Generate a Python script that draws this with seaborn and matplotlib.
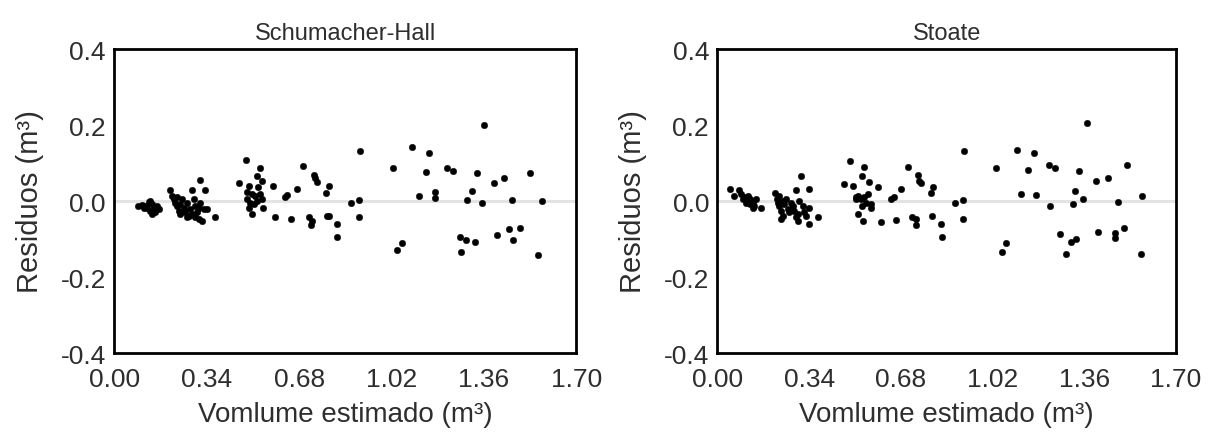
import matplotlib
matplotlib.use("Agg")
import matplotlib.pyplot as plt
import seaborn as sns
import pandas as pd

# ---- Data ----
sh_volume = [
    0.089, 0.102, 0.114, 0.126, 0.132, 0.139, 0.145, 0.132, 0.151, 0.163, 0.120, 0.108, 0.139, 0.157,
    0.204, 0.212, 0.218, 0.224, 0.231, 0.237, 0.243, 0.249, 0.255, 0.261, 0.267, 0.273, 0.280, 0.286,
    0.292, 0.298, 0.304, 0.310, 0.316, 0.323, 0.329, 0.335, 0.341, 0.372, 0.231, 0.243, 0.267, 0.286,
    0.298, 0.316, 0.310,
    0.485, 0.536, 0.525, 0.542, 0.457, 0.583, 0.496, 0.527, 0.489, 0.506, 0.518, 0.535, 0.542, 0.489,
    0.500, 0.524, 0.548, 0.514, 0.496, 0.506, 0.592,
    0.629, 0.635, 0.650, 0.672, 0.693, 0.733, 0.740, 0.746, 0.715, 0.727, 0.724,
    0.780, 0.791, 0.783, 0.791, 0.819, 0.819, 0.872, 0.901, 0.903, 0.901,
    1.025, 1.040, 1.058, 1.095, 1.120, 1.148, 1.158, 1.181, 1.181, 1.224, 1.245,
    1.271, 1.275, 1.295, 1.298, 1.316, 1.326, 1.334, 1.353, 1.359, 1.396, 1.408,
    1.432, 1.451, 1.463, 1.466, 1.491, 1.528, 1.559, 1.574,
]
sh_residuo = [
    -0.012, -0.011, -0.014, -0.003, 0.001, -0.008, -0.017, -0.025, -0.030, -0.021, -0.017, -0.017, -0.034, -0.012,
    0.030, 0.014, 0.005, -0.004, -0.012, -0.025, -0.008, 0.005, -0.017, -0.030, -0.004, -0.039, -0.021, 0.030,
    0.005, -0.012, -0.030, -0.047, 0.056, -0.052, -0.021, 0.030, -0.021, -0.041, 0.010, -0.034, -0.043, -0.034,
    -0.043, -0.004, -0.017,
    0.108, 0.087, 0.065, 0.052, 0.047, 0.039, 0.039, 0.036, 0.023, 0.018, 0.014, 0.018, 0.005, 0.005,
    -0.004, 0.001, -0.017, -0.008, -0.019, -0.034, -0.043,
    0.010, 0.016, -0.046, 0.033, 0.093, 0.068, 0.060, 0.049, -0.043, -0.052, -0.063,
    0.021, 0.039, -0.039, -0.039, -0.061, -0.094, -0.005, 0.003, 0.132, -0.043,
    0.086, -0.129, -0.111, 0.143, 0.012, 0.077, 0.127, 0.025, 0.009, 0.086, 0.080,
    -0.094, -0.135, -0.103, 0.002, 0.027, -0.109, 0.074, -0.006, 0.201, 0.047, -0.089,
    0.061, -0.074, 0.004, -0.102, -0.070, 0.074, -0.142, -0.001,
]

st_volume = [
    0.048, 0.063, 0.079, 0.088, 0.100, 0.112, 0.119, 0.125, 0.131, 0.137, 0.106, 0.094, 0.131, 0.143, 0.162, 0.119,
    0.215, 0.220, 0.223, 0.230, 0.236, 0.242, 0.248, 0.254, 0.260, 0.267, 0.273, 0.279, 0.285, 0.291, 0.298,
    0.304, 0.310, 0.316, 0.322, 0.328, 0.338, 0.341, 0.291, 0.341, 0.374, 0.230, 0.242, 0.298, 0.236,
    0.468, 0.491, 0.504, 0.542, 0.535, 0.563, 0.596, 0.514, 0.523, 0.532, 0.544, 0.557, 0.551, 0.536,
    0.569, 0.569, 0.523, 0.541, 0.606, 0.514,
    0.643, 0.656, 0.662, 0.681, 0.705, 0.723, 0.736, 0.738, 0.742, 0.748, 0.754,
    0.791, 0.800, 0.797, 0.830, 0.831, 0.880, 0.912, 0.915, 0.912,
    1.032, 1.054, 1.069, 1.110, 1.125, 1.153, 1.173, 1.183, 1.230, 1.251, 1.233,
    1.270, 1.293, 1.310, 1.328, 1.317, 1.327, 1.341, 1.354, 1.369, 1.405, 1.411,
    1.449, 1.473, 1.473, 1.484, 1.506, 1.520, 1.572, 1.574,
]
st_residuo = [
    0.032, 0.014, 0.030, 0.018, 0.010, 0.012, 0.005, 0.001, -0.004, -0.012, -0.004, 0.005, -0.017, 0.005, -0.017, -0.008,
    0.021, 0.005, -0.004, -0.012, -0.025, -0.039, -0.008, 0.005, -0.021, -0.030, -0.004, -0.012, -0.025, -0.043, -0.052,
    0.001, 0.065, -0.012, -0.030, -0.039, 0.032, -0.017, 0.030, -0.061, -0.041, 0.014, 0.001, -0.034, -0.047,
    0.045, 0.106, 0.039, 0.089, 0.067, 0.051, 0.038, 0.010, 0.014, 0.005, 0.010, 0.018, -0.005, -0.012,
    -0.008, -0.017, -0.034, -0.052, -0.054, 0.005,
    0.005, 0.010, -0.050, 0.032, 0.089, -0.043, -0.047, -0.063, 0.068, 0.053, 0.047,
    0.021, 0.038, -0.040, -0.061, -0.094, -0.006, 0.002, 0.131, -0.047,
    0.086, -0.134, -0.111, 0.135, 0.018, 0.083, 0.126, 0.016, 0.094, 0.086, -0.012,
    -0.087, -0.140, -0.107, -0.100, -0.009, 0.026, 0.079, 0.005, 0.205, 0.053, -0.081,
    0.060, -0.085, -0.096, -0.003, -0.072, 0.096, -0.140, 0.013,
]

titles = ["Schumacher-Hall", "Stoate"]
x_ticks = [0.00, 0.34, 0.68, 1.02, 1.36, 1.70]
x_tick_labels = ["0.00", "0.34", "0.68", "1.02", "1.36", "1.70"]
y_ticks = [-0.4, -0.2, 0.0, 0.2, 0.4]
y_tick_labels = ["-0.4", "-0.2", "0.0", "0.2", "0.4"]
x_label = "Vomlume estimado (m³)"
y_label = "Residuos (m³)"

sns.set_theme(style="white")
plt.rcParams["font.family"] = ["Liberation Sans", "DejaVu Sans"]

fig = plt.figure(figsize=(12.16, 4.35), dpi=100)
ax1 = fig.add_axes([0.094, 0.186, 0.380, 0.699])
ax2 = fig.add_axes([0.590, 0.186, 0.377, 0.699])

datasets = [
    pd.DataFrame({"vol": sh_volume, "res": sh_residuo}),
    pd.DataFrame({"vol": st_volume, "res": st_residuo}),
]

text_color = "#2e2e2e"
for ax, df, title in zip([ax1, ax2], datasets, titles):
    ax.axhline(0, color="#e3e3e3", lw=2.2, zorder=0)
    sns.scatterplot(data=df, x="vol", y="res", ax=ax, color="black",
                    s=22, edgecolor="black", linewidth=0.3, zorder=3)
    ax.set_xlim(0, 1.70)
    ax.set_ylim(-0.4, 0.4)
    ax.set_xticks(x_ticks)
    ax.set_xticklabels(x_tick_labels)
    ax.set_yticks(y_ticks)
    ax.set_yticklabels(y_tick_labels)
    ax.tick_params(axis="x", length=0, pad=10, labelsize=19, labelcolor=text_color)
    ax.tick_params(axis="y", length=0, pad=6, labelsize=19, labelcolor=text_color)
    ax.set_xlabel(x_label, fontsize=20, color=text_color, labelpad=7)
    ax.set_ylabel(y_label, fontsize=21, color=text_color, labelpad=12)
    ax.set_title(title, fontsize=17, color=text_color, pad=7)
    for sp in ax.spines.values():
        sp.set_visible(True)
        sp.set_color("black")
        sp.set_linewidth(2)
    ax.grid(False)

fig.savefig("out.png", dpi=100, facecolor="white")
